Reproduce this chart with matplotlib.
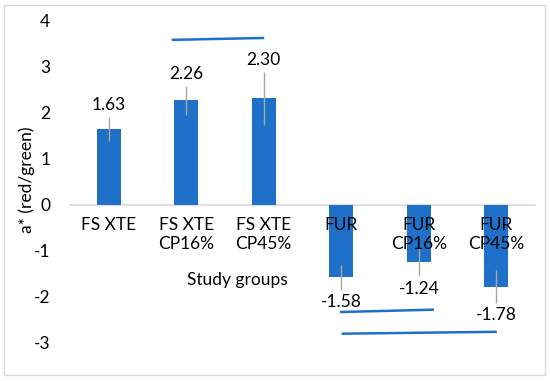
import matplotlib.pyplot as plt
from matplotlib.patches import Rectangle

# data
groups = ['FS XTE', 'FS XTE\nCP16%', 'FS XTE\nCP45%', 'FUR', 'FUR\nCP16%', 'FUR\nCP45%']
a_star = [1.63, 2.26, 2.30, -1.58, -1.24, -1.78]
err = [0.26, 0.31, 0.57, 0.27, 0.32, 0.36]

# significance lines: (x0, x1, y0, y1) in category / data units
sig_x0 = [0.83, 3.00, 3.02]
sig_x1 = [1.99, 4.18, 4.99]
sig_y0 = [3.57, -2.33, -2.80]
sig_y1 = [3.61, -2.28, -2.76]

plt.rcParams['font.family'] = ['Lato', 'DejaVu Sans']
plt.rcParams['axes.unicode_minus'] = False
blue = '#1F70C8'
fs = 12.5

fig = plt.figure(figsize=(5.5, 3.81), dpi=100)
ax = fig.add_axes([0.127, 0.10, 0.846, 0.8475])

x = list(range(len(groups)))
ax.bar(x, a_star, width=0.31, color=blue, zorder=2)
ax.errorbar(x, a_star, yerr=err, fmt='none', ecolor='#A6A6A6',
            elinewidth=1, capsize=0, zorder=3)

for xi, v, e in zip(x, a_star, err):
    if v >= 0:
        ax.annotate(f'{v:.2f}', (xi, v + e), xytext=(0, 3), textcoords='offset points',
                    ha='center', va='bottom', fontsize=fs, zorder=5)
    else:
        ax.annotate(f'{v:.2f}', (xi, v - e), xytext=(0, -3), textcoords='offset points',
                    ha='center', va='top', fontsize=fs, zorder=5)

for x0, x1, y0, y1 in zip(sig_x0, sig_x1, sig_y0, sig_y1):
    ax.plot([x0, x1], [y0, y1], color=blue, lw=1.8, zorder=4)

ax.set_xlim(-0.5, 5.5)
ax.set_ylim(-3, 4)
ax.set_yticks(range(-3, 5))
ax.set_xticks(x)
ax.set_xticklabels(groups, linespacing=1.25)

for s in ['top', 'right', 'left']:
    ax.spines[s].set_visible(False)
ax.spines['bottom'].set_position(('data', 0))
ax.spines['bottom'].set_color('#D9D9D9')
ax.spines['bottom'].set_linewidth(1.2)
ax.spines['bottom'].set_zorder(1)
ax.tick_params(axis='both', length=0, labelsize=fs, colors='#000000')
ax.tick_params(axis='x', pad=9)
ax.tick_params(axis='y', pad=14)
ax.xaxis.set_zorder(6)

fig.text(27 / 550, 1 - 180 / 381, 'a* (red/green)', rotation=90,
         ha='center', va='center', fontsize=fs)
fig.text(237 / 550, 1 - 280 / 381, 'Study groups', ha='center', va='center', fontsize=fs)

# light frame around the whole chart
fig.patches.append(Rectangle((4 / 550, 6 / 381), 541 / 550, 370 / 381,
                             transform=fig.transFigure, fill=False,
                             edgecolor='#D9D9D9', lw=1))

fig.savefig('out.png', dpi=100)
